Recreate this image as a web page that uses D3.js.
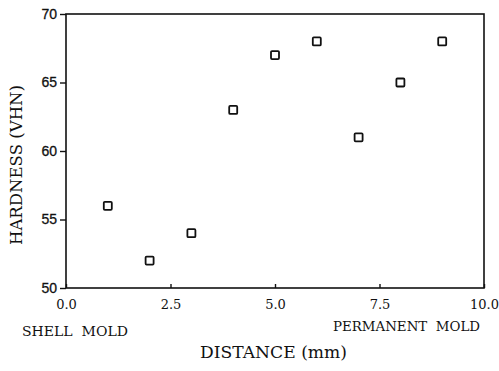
<!doctype html>
<html lang="en">
<head>
<meta charset="UTF-8" />
<script src="https://d3js.org/d3.v7.min.js"></script>
<style>
  body { margin: 0; background: #fff; }
</style>
</head>
<body>
<div id="chart"></div>
<script>
// data
const distance = [1, 2, 3, 4, 5, 6, 7, 8, 9]
const hardness = [56, 52, 54, 63, 67, 68, 61, 65, 68]
const xTicks = [0, 2.5, 5, 7.5, 10]
const yTicks = [50, 55, 60, 65, 70]

const W = 499, H = 371
const margin = { top: 14, right: 15, bottom: 83, left: 66 }
const width = W - margin.left - margin.right
const height = H - margin.top - margin.bottom

const svg = d3.select("#chart").append("svg")
  .attr("width", W).attr("height", H)

const g = svg.append("g")
  .attr("transform", `translate(${margin.left},${margin.top})`)

const x = d3.scaleLinear().domain([0, 10]).range([0, width])
const y = d3.scaleLinear().domain([50, 70]).range([height, 0])

const serif = "'DejaVu Serif', serif"

// frame
g.append("rect")
  .attr("width", width).attr("height", height)
  .attr("fill", "none").attr("stroke", "#111").attr("stroke-width", 1.6)

// y axis
const yAxis = g.append("g")
  .call(d3.axisLeft(y).tickValues(yTicks).tickSize(6).tickPadding(3).tickFormat(d3.format("d")))
yAxis.select(".domain").remove()
yAxis.selectAll("line").attr("stroke", "#111").attr("stroke-width", 1.4)
yAxis.selectAll("text")
  .attr("font-family", "'Liberation Sans', Arial, sans-serif")
  .attr("font-size", 14).attr("fill", "#111")
  .attr("stroke", "#111").attr("stroke-width", 0.3)

// x axis (ticks inward)
const xAxis = g.append("g")
  .attr("transform", `translate(0,${height})`)
  .call(d3.axisBottom(x).tickValues(xTicks).tickSize(-4).tickPadding(12).tickFormat(d3.format(".1f")))
xAxis.select(".domain").remove()
xAxis.selectAll("line").attr("stroke", "#111").attr("stroke-width", 1.4)
xAxis.selectAll("text")
  .attr("font-family", serif)
  .attr("font-size", 13).attr("fill", "#111")

// markers
g.selectAll(".pt")
  .data(distance.map((d, i) => ({ d, h: hardness[i] })))
  .enter().append("rect")
  .attr("class", "pt")
  .attr("x", p => x(p.d) - 4)
  .attr("y", p => y(p.h) - 4)
  .attr("width", 8).attr("height", 8)
  .attr("rx", 1)
  .attr("fill", "#fff").attr("stroke", "#111").attr("stroke-width", 1.8)

// labels
svg.append("text")
  .attr("x", 22).attr("y", 336)
  .attr("font-family", serif).attr("font-size", 13.5).attr("fill", "#111")
  .style("white-space", "pre")
  .attr("textLength", 106).attr("lengthAdjust", "spacingAndGlyphs")
  .text("SHELL  MOLD")

svg.append("text")
  .attr("x", 333).attr("y", 331)
  .attr("font-family", serif).attr("font-size", 13.5).attr("fill", "#111")
  .style("white-space", "pre")
  .attr("textLength", 147).attr("lengthAdjust", "spacingAndGlyphs")
  .text("PERMANENT  MOLD")

svg.append("text")
  .attr("x", 200).attr("y", 358)
  .attr("font-family", serif).attr("font-size", 16.5).attr("fill", "#111")
  .attr("textLength", 147).attr("lengthAdjust", "spacingAndGlyphs")
  .text("DISTANCE (mm)")

svg.append("text")
  .attr("transform", "translate(22,245) rotate(-90)")
  .attr("font-family", serif).attr("font-size", 16.5).attr("fill", "#111")
  .attr("textLength", 160).attr("lengthAdjust", "spacingAndGlyphs")
  .text("HARDNESS (VHN)")
</script>
</body>
</html>
